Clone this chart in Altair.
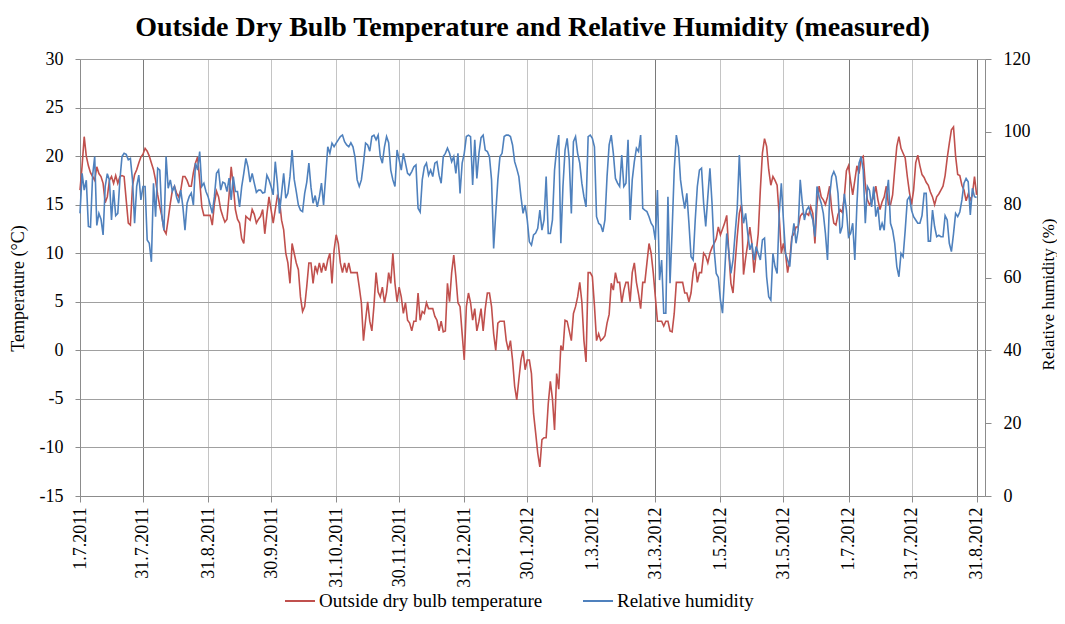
import altair as alt
import pandas as pd

TITLE = "Outside Dry Bulb Temperature and Relative Humidity (measured)"
SERIES = ["Outside dry bulb temperature", "Relative humidity"]
COLORS = ["#C0504D", "#4F81BD"]

# x axis: days counted from 1.7.2011
TICK_DAYS = [0, 30, 61, 91, 122, 152, 183, 213, 244, 274, 305, 335, 366, 396, 427]
TICK_LABELS = ["1.7.2011", "31.7.2011", "31.8.2011", "30.9.2011", "31.10.2011",
               "30.11.2011", "31.12.2011", "30.1.2012", "1.3.2012", "31.3.2012",
               "1.5.2012", "31.5.2012", "1.7.2012", "31.7.2012", "31.8.2012"]
TEMP_TICKS = [-15, -10, -5, 0, 5, 10, 15, 20, 25, 30]
RH_TICKS = [0, 20, 40, 60, 80, 100, 120]

# daily outside dry bulb temperature (degC), 1.7.2011 .. 31.8.2012
temperature = [
    16.5, 19, 22, 20, 19, 18.3, 17.9, 17.5, 18.9, 18.2,
    17.9, 17.2, 15.2, 15.8, 17.5, 17.9, 17.2, 18, 17.2, 17.9,
    18, 17.9, 15.5, 13.1, 12.9, 16.9, 18.1, 18.6, 19.3, 19.9,
    20.2, 20.8, 20.5, 20, 19.3, 18.6, 17.5, 16, 14.8, 13.8,
    12.4, 12, 13.5, 15.1, 16.5, 16.9, 16.2, 15.8, 16.5, 17.9,
    17.9, 17.5, 16.9, 16.9, 18.3, 19.3, 19.9, 17.5, 14.8, 13.9,
    13.9, 13.9, 13.9, 12.9, 15.1, 16.4, 15.8, 14.5, 13.8, 13.2,
    13.5, 16, 18.9, 17, 14.5, 13.5, 13.1, 11.5, 11, 13.8,
    13.6, 13.4, 14.5, 14, 13.1, 13.5, 13.8, 14.5, 12, 14,
    15.8, 14.5, 13.1, 14.5, 15.9, 15.5, 13.4, 12.4, 10, 9,
    6.9, 11, 10, 9, 8.3, 5.5, 4, 4.5, 6.6, 9,
    9, 6.9, 8.7, 8, 9, 8, 9, 8.2, 9.3, 10,
    6.9, 10.3, 11.9, 11, 9, 8, 9, 8, 9, 8,
    8, 8, 8, 6.5, 4.9, 1, 3.1, 5, 3, 2,
    4.6, 8, 6, 5.5, 6.5, 4.9, 6, 8, 6.9, 10,
    6.9, 5, 6.5, 5.5, 3.8, 4.9, 3.1, 2.8, 2, 3,
    3, 5.9, 3.1, 4, 3.8, 4.9, 4.3, 4.3, 4.3, 3.5,
    3.1, 2, 3, 1.9, 2, 6.9, 5, 8, 9.8, 7.6,
    4.9, 4.5, 1.7, -1, 4.5, 5.9, 4.9, 3.1, 4.3, 2,
    3, 4.3, 2, 4.3, 5.9, 5.9, 4.5, 1.7, 0, 2.8,
    3, 3, 3, 1, 0, 1, -1, -3.7, -5.1, -3,
    -1, 0, -2, -1, -1, -2.4, -6.5, -8.5, -10.6, -12,
    -9.2, -9, -9, -5.5, -3.2, -5, -8.2, -2.4, -4, 0.5,
    0, 3.1, 3, 2, 1, 3.8, 4.5, 5.5, 7, 5,
    1, -1.2, 8, 8, 7.6, 4.6, 1, 1.7, 1, 1.2,
    1.5, 2.8, 3.7, 6.9, 6.2, 8, 7, 7, 4.9, 6.2,
    7, 7, 5, 8, 9, 7, 5.8, 4.3, 7, 7,
    9, 11, 10, 8, 5.5, 3, 3, 3, 2.5, 3,
    3, 2, 1.9, 3.8, 7, 7, 7, 7, 5.9, 5.9,
    5, 5.9, 8, 9, 7, 8, 8, 10, 9.7, 9,
    10, 10.6, 11, 11.5, 12.7, 11.9, 12.5, 13.1, 13.9, 10,
    6.9, 5.9, 9, 11.7, 14.1, 15, 7.8, 9.5, 11, 12.7,
    11, 8, 10, 12, 16.5, 20.3, 21.8, 21, 18.6, 17,
    17.9, 17.5, 17, 13.8, 10, 11, 10, 8, 9.3, 11.7,
    12, 12.7, 12.7, 13.8, 14.1, 13.9, 14.1, 13.9, 14.8, 14.1,
    11, 15.1, 16.9, 15.8, 15.5, 15, 15.8, 16.9, 14.5, 13.1,
    12.9, 14, 14.5, 14.2, 15.8, 18.5, 19, 17.4, 16, 17.5,
    19, 18.2, 19.8, 20, 17, 15.5, 15, 15.3, 15.8, 16.9,
    15.5, 14.5, 15.3, 15.8, 16.9, 15, 15, 16, 18.6, 21,
    22, 20.8, 20.3, 19.8, 17.9, 16.3, 15, 16.5, 19.3, 20.1,
    19, 18.1, 17.8, 17.3, 17, 16.3, 15.8, 15, 15.8, 16.1,
    16.5, 16.9, 18, 19.8, 21.3, 22.7, 23, 20, 18.1, 18,
    17, 16.5, 15.4, 16.1, 15.5, 16, 17.9, 16,
]

# daily relative humidity (%), same days
humidity = [
    77.6, 88.6, 84, 86.7, 74, 73.8, 88, 93.2, 74.3, 77.6,
    76, 71.7, 85, 88.5, 86.8, 75.8, 84, 77, 77.6, 86.8,
    93.2, 94.1, 93.8, 92.3, 92.7, 86.8, 74.9, 85, 88.1, 81.3,
    85, 85, 70.3, 69.4, 64.3, 85.9, 76.7, 90, 89.5, 76.7,
    73, 93.2, 84.5, 86.8, 83.7, 85, 82, 80.4, 84, 79.4,
    73, 80.4, 82.2, 83.2, 79.9, 91.4, 89.5, 94.6, 85, 85.9,
    83.6, 82.2, 79.9, 77.6, 82.2, 88.6, 89.5, 84, 86.2, 85.9,
    83.6, 87.3, 81.3, 87.7, 83.6, 83.6, 79.4, 84.9, 88.6, 92.7,
    90.4, 86.2, 88.6, 85.9, 83.4, 84, 84, 83.2, 83.4, 88.1,
    86.8, 85, 82.7, 91.8, 85.9, 77.6, 83.1, 88.6, 81.8, 83.1,
    87.7, 95, 87, 83.6, 79.9, 78.5, 78.1, 83.1, 86.2, 91.4,
    84.8, 80.4, 82.5, 79.4, 82.2, 85.9, 79.9, 87.7, 95.9, 94.1,
    96.9, 95.9, 96.9, 97.8, 98.7, 99.1, 97.3, 96.4, 95.9, 97,
    95.9, 93, 86.8, 85, 86.8, 91.4, 96.9, 96.4, 94.7, 98.7,
    99.1, 97.8, 99.1, 93.2, 91.4, 95.9, 98.7, 97, 89.5, 86.8,
    85, 95, 92.3, 89.5, 94.1, 91.4, 88.6, 88.1, 89.1, 90.4,
    90.9, 79, 78, 86.8, 90.4, 91.4, 88.1, 89.5, 87.7, 91.4,
    91.8, 88.1, 85.9, 93.2, 94.1, 95.5, 94.1, 91.8, 93.2, 88.6,
    94.1, 83.1, 91.4, 94.1, 98.7, 99.1, 98.7, 85.4, 97.8, 87.2,
    94.1, 98.4, 99.1, 95, 94.6, 93.2, 86.8, 68, 77.6, 86.8,
    93.2, 94.1, 98.7, 99.1, 99.1, 98.7, 96.4, 91.8, 89.9, 87.7,
    82.2, 77.6, 79.9, 75.8, 69.8, 68.9, 71.7, 72.2, 73.5, 78.5,
    73, 75.8, 87.7, 72.1, 72.1, 75.8, 89.5, 95.4, 99.1, 69.4,
    85, 95, 98.2, 92.3, 77.6, 97.3, 98.7, 94.1, 91.4, 85.9,
    82.2, 79.4, 98.7, 99.1, 98.2, 95.9, 76.7, 74.9, 74.4, 72.5,
    75.8, 87.7, 96.4, 99.1, 94.1, 87.2, 85.9, 85, 93.6, 85,
    85.9, 97.8, 75.8, 86.8, 91.8, 95.5, 94.6, 99.1, 79, 78.5,
    78.1, 76.7, 74.9, 74, 70.3, 84, 59.3, 64.8, 50.2, 50.2,
    82.2, 58.4, 73, 89.5, 99.1, 95.9, 86.8, 82.5, 78.9, 83.1,
    74.9, 65.7, 64.8, 75.8, 85, 89.5, 90, 80.4, 74, 82.2,
    90, 80.4, 67.6, 61.1, 60, 53.8, 50.2, 61, 72.1, 67,
    61.1, 64.8, 72.1, 79, 93.6, 80.4, 74.9, 77.6, 72.1, 67.6,
    69.4, 64.8, 68.5, 66.6, 64.8, 70.3, 70.8, 60.2, 54.7, 53.8,
    66.6, 63, 61.1, 77.6, 85.9, 75.8, 66.6, 64.8, 63, 70.3,
    74.9, 69.4, 73, 86.8, 80.4, 75.8, 78.5, 79.4, 77.6, 75.8,
    71.2, 85, 82.2, 80.4, 77.6, 72.1, 64.8, 82.2, 87.7, 89.1,
    87.7, 83.1, 72.1, 74, 83, 78.5, 71.2, 72.1, 74.9, 64.8,
    80, 91.4, 93.2, 89.5, 74.9, 85, 83.9, 79.4, 85, 76.7,
    79.4, 73, 74.9, 73, 82.2, 86.8, 74.9, 73, 69.4, 63,
    60.2, 66.6, 65.7, 73, 81.3, 82.2, 78.5, 76.7, 75.8, 74.9,
    74.9, 77, 83.1, 83.1, 70, 70, 78.5, 74, 71.2, 71.6,
    71.2, 71.2, 77, 75.8, 69.4, 67.1, 72, 77.6, 76.7, 78,
    81.3, 85.9, 87.2, 86.3, 77.2, 84.5, 82.2, 82,
]

n = len(temperature)
days = list(range(n))
df = pd.DataFrame({
    "day": days + days,
    "value": temperature + humidity,
    "series": [SERIES[0]] * n + [SERIES[1]] * len(humidity),
})

FONT = "Liberation Serif"
days_js = "[" + ",".join(str(d) for d in TICK_DAYS) + "]"
labels_js = "[" + ",".join("'" + s + "'" for s in TICK_LABELS) + "]"
label_expr = labels_js + "[indexof(" + days_js + ", datum.value)]"

dark_days = [30, 274, 366, 427]
x_grid_color = {
    "condition": {"test": " || ".join("datum.value == %d" % d for d in dark_days),
                  "value": "#7a7a7a"},
    "value": "#c4c4c4",
}
y_grid_color = {
    "condition": {"test": "datum.value == 20", "value": "#6e6e6e"},
    "value": "#a0a0a0",
}

x_enc = alt.X(
    "day:Q",
    scale=alt.Scale(domain=[0, 431], nice=False, zero=False),
    axis=alt.Axis(
        values=TICK_DAYS, labelExpr=label_expr, labelAngle=270, title=None,
        grid=True, gridColor=x_grid_color, gridWidth=1,
        domainColor="#8c8c8c", tickColor="#8c8c8c", tickSize=6,
        labelPadding=5, labelFontSize=18, labelFont=FONT, labelColor="black",
        labelOverlap=False, labelBound=False, labelFlush=False,
    ),
)

color_enc = alt.Color(
    "series:N",
    scale=alt.Scale(domain=SERIES, range=COLORS),
    legend=alt.Legend(
        title=None, orient="none", legendX=204, legendY=526,
        direction="horizontal", symbolType="stroke", symbolStrokeWidth=2,
        symbolSize=900, labelFont=FONT, labelFontSize=19, labelColor="black",
        columnPadding=36, labelLimit=600, labelOffset=3,
    ),
)

temp_line = alt.Chart(df).transform_filter(
    alt.datum.series == SERIES[0]
).mark_line(strokeWidth=1.6).encode(
    x=x_enc,
    y=alt.Y(
        "value:Q",
        scale=alt.Scale(domain=[-15, 30], nice=False, zero=False),
        axis=alt.Axis(
            orient="left", values=TEMP_TICKS, title="Temperature (°C)",
            labelExpr="'' + datum.value",
            grid=True, gridColor=y_grid_color, gridWidth=1,
            domainColor="#8c8c8c", tickColor="#8c8c8c", tickSize=5,
            labelPadding=12, labelFontSize=18, labelFont=FONT, labelColor="black",
            titleFont=FONT, titleFontSize=18, titleFontWeight="normal",
            titleColor="black", titleAngle=270, titleBaseline="middle",
            titleAlign="center", titleX=-62, titleY=229,
        ),
    ),
    color=color_enc,
    order="day:Q",
)

rh_line = alt.Chart(df).transform_filter(
    alt.datum.series == SERIES[1]
).mark_line(strokeWidth=1.6).encode(
    x=x_enc,
    y=alt.Y(
        "value:Q",
        scale=alt.Scale(domain=[0, 120], nice=False, zero=False),
        axis=alt.Axis(
            orient="right", values=RH_TICKS, title="Relative humidity (%)",
            grid=False, domainColor="#8c8c8c", tickColor="#8c8c8c", tickSize=6,
            labelPadding=12, labelFontSize=18, labelFont=FONT, labelColor="black",
            titleFont=FONT, titleFontSize=17, titleFontWeight="normal",
            titleColor="black", titleAngle=270, titleBaseline="middle",
            titleAlign="center", titleX=63, titleY=235,
        ),
    ),
    color=color_enc,
    order="day:Q",
)

chart = alt.layer(temp_line, rh_line).resolve_scale(
    y="independent"
).properties(
    width=905,
    height=437,
    autosize=alt.AutoSizeParams(type="none"),
    padding={"left": 72, "top": 51, "right": 72, "bottom": 118},
    title=alt.TitleParams(
        TITLE, font=FONT, fontSize=28, fontWeight="bold", color="black",
        anchor="middle", frame="group", offset=8,
    ),
).configure_view(
    stroke=None
).configure_axis(
    labelFont=FONT, titleFont=FONT
).configure_legend(
    labelFont=FONT
)

chart.save("out.html", embed_options={"renderer": "svg", "actions": False})
